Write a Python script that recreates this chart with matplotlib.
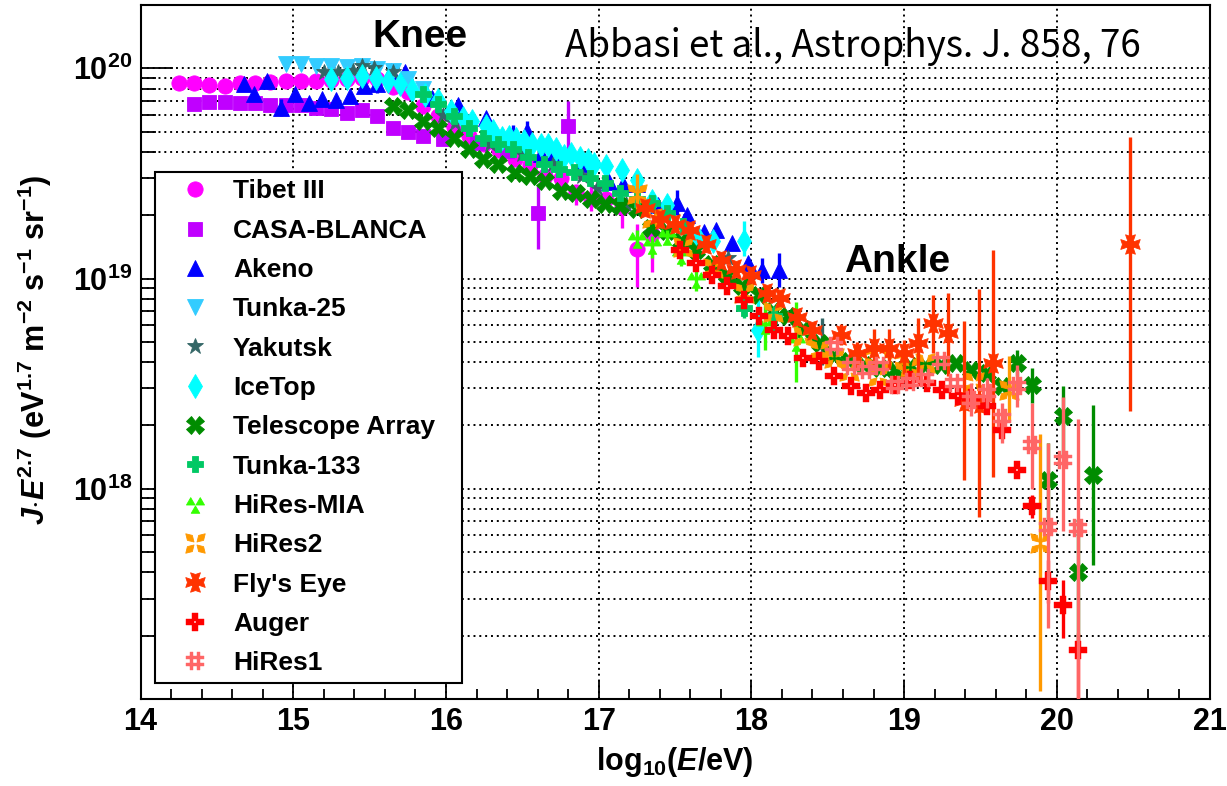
import numpy as np
import matplotlib
matplotlib.use("Agg")
import matplotlib.pyplot as plt
from matplotlib.path import Path
from matplotlib.ticker import FixedLocator, MultipleLocator, NullFormatter

# ---------------- data: log10(E/eV) and log10(J*E^2.7 / eV^1.7 m^-2 s^-1 sr^-1) --------------
tibet_logE = [14.25, 14.35, 14.45, 14.55, 14.65, 14.75, 14.85, 14.95, 15.05, 15.15, 15.25, 15.35,
              15.45, 15.55, 15.65, 15.75, 15.85, 15.95, 16.05, 16.15, 16.25, 16.35, 16.45, 16.55,
              16.65, 16.75, 16.85, 16.95, 17.05, 17.15, 17.25, 17.35]
tibet_logJ = [19.93, 19.93, 19.92, 19.915, 19.93, 19.93, 19.935, 19.94, 19.94, 19.94, 19.945, 19.95,
              19.955, 19.95, 19.91, 19.885, 19.82, 19.775, 19.72, 19.68, 19.64, 19.61, 19.57, 19.54,
              19.49, 19.48, 19.41, 19.38, 19.38, 19.34, 19.14, 19.21]
tibet_up = [0] * 25 + [0.02, 0.03, 0.08, 0.03, 0.04, 0.12, 0.07]
tibet_dn = [0] * 25 + [0.06, 0.06, 0.06, 0.04, 0.10, 0.18, 0.18]

casa_logE = [14.35, 14.45, 14.55, 14.65, 14.75, 14.85, 14.95, 15.05, 15.15, 15.25, 15.35, 15.45,
             15.55, 15.65, 15.75, 15.85, 15.98, 16.2, 16.4, 16.6, 16.8]
casa_logJ = [19.83, 19.84, 19.84, 19.837, 19.833, 19.824, 19.824, 19.824, 19.813, 19.805, 19.789,
             19.801, 19.773, 19.714, 19.699, 19.678, 19.662, 19.645, 19.605, 19.31, 19.725]
casa_up = [0] * 19 + [0.13, 0.12]
casa_dn = [0] * 19 + [0.17, 0.11]

akeno_logE = [14.68, 14.74, 14.83, 14.92, 15.01, 15.10, 15.19, 15.28, 15.37, 15.46, 15.55, 15.64,
              15.73, 15.91, 16.08, 16.26, 16.44, 16.53, 16.62, 16.71, 16.89, 17.07, 17.16, 17.25,
              17.39, 17.51, 17.58, 17.69, 17.77, 17.87, 17.98, 18.07, 18.18]
akeno_logJ = [19.924, 19.876, 19.940, 19.813, 19.876, 19.833, 19.856, 19.849, 19.868, 19.916,
              19.924, 19.987, 19.980, 19.860, 19.825, 19.765, 19.68, 19.70, 19.59, 19.59, 19.543,
              19.46, 19.45, 19.45, 19.35, 19.36, 19.30, 19.22, 19.23, 19.17, 19.075, 19.04, 19.04]
akeno_up = [0, 0, 0, 0.04, 0.03, 0, 0, 0, 0, 0.03, 0.02, 0, 0, 0, 0, 0, 0.05, 0.05, 0, 0, 0, 0,
            0, 0, 0, 0.06, 0, 0, 0, 0, 0, 0.06, 0.08]
akeno_dn = [0, 0, 0, 0.04, 0.02, 0, 0, 0, 0, 0.03, 0.04, 0, 0, 0, 0, 0, 0.03, 0.03, 0, 0, 0, 0,
            0, 0, 0, 0.06, 0, 0, 0, 0, 0, 0.06, 0.08]

tunka25_logE = [14.95, 15.05, 15.15, 15.25, 15.35, 15.45, 15.55, 15.65, 15.75, 15.85]
tunka25_logJ = [20.02, 20.02, 20.01, 20.01, 20.005, 20.01, 19.995, 19.985, 19.95, 19.90]

yakutsk_logE = [15.20, 15.29, 15.39, 15.45, 15.53, 15.65, 15.98, 16.06, 16.29, 16.50, 16.70, 16.89,
                16.99, 17.18, 17.85, 18.46]
yakutsk_logJ = [19.982, 19.982, 19.987, 20.011, 19.999, 19.980, 19.78, 19.74, 19.638, 19.59,
                19.543, 19.487, 19.432, 19.356, 19.10, 18.69]
yakutsk_up = [0] * 15 + [0.12]
yakutsk_dn = [0] * 15 + [0.10]

icetop_logE = [15.25, 15.35, 15.45, 15.54, 15.62, 15.70, 15.78, 15.86, 15.95, 16.03, 16.11, 16.17,
               16.26, 16.31, 16.37, 16.41, 16.46, 16.51, 16.56, 16.62, 16.67, 16.72, 16.77, 16.82,
               16.88, 16.93, 16.97, 17.05, 17.15, 17.25, 17.35, 17.45, 17.65, 17.75, 17.95, 18.04]
icetop_logJ = [19.948, 19.956, 19.963, 19.956, 19.940, 19.924, 19.895, 19.871, 19.848, 19.797,
               19.765, 19.749, 19.724, 19.700, 19.670, 19.673, 19.662, 19.654, 19.641, 19.635,
               19.635, 19.614, 19.582, 19.590, 19.575, 19.562, 19.543, 19.535, 19.514, 19.47,
               19.368, 19.352, 19.194, 19.18, 19.178, 18.757]
icetop_up = [0] * 33 + [0.04, 0.095, 0.14]
icetop_dn = [0] * 33 + [0.04, 0.072, 0.13]

ta_logE = [15.65, 15.75, 15.85, 15.95, 16.05, 16.15, 16.24, 16.34, 16.45, 16.55, 16.65, 16.75,
           16.85, 16.95, 17.04, 17.14, 17.25, 17.34, 17.45, 17.54, 17.64, 17.74, 17.84, 17.94,
           18.05, 18.14, 18.24, 18.34, 18.45, 18.54, 18.64, 18.74, 18.84, 18.94, 19.04, 19.14,
           19.24, 19.34, 19.44, 19.54, 19.64, 19.74, 19.84, 19.94, 20.04, 20.14, 20.24]
ta_logJ = [19.820, 19.801, 19.749, 19.714, 19.670, 19.618, 19.567, 19.543, 19.503, 19.487, 19.463,
           19.416, 19.408, 19.376, 19.356, 19.345, 19.329, 19.241, 19.225, 19.178, 19.138, 19.067,
           19.019, 18.963, 18.924, 18.844, 18.820, 18.76, 18.694, 18.630, 18.61, 18.59, 18.575,
           18.567, 18.582, 18.582, 18.59, 18.598, 18.563, 18.551, 18.487, 18.598, 18.495, 18.043,
           18.344, 17.606, 18.067]
ta_up = [0] * 41 + [0.064, 0.08, 0.175, 0.143, 0.25, 0.333]
ta_dn = [0] * 41 + [0.063, 0.087, 0.24, 0.20, 0.35, 0.429]

tunka133_logE = [15.85, 15.95, 16.05, 16.15, 16.24, 16.34, 16.44, 16.54, 16.64, 16.74, 16.84, 16.94,
                 17.04, 17.14, 17.25, 17.35, 17.45, 17.55, 17.95, 18.15]
tunka133_logJ = [19.876, 19.829, 19.773, 19.717, 19.670, 19.638, 19.614, 19.58, 19.547, 19.52,
                 19.507, 19.48, 19.452, 19.408, 19.38, 19.36, 19.313, 19.25, 18.86, 18.82]
tunka133_up = [0] * 18 + [0.05, 0.05]
tunka133_dn = [0] * 18 + [0.05, 0.07]

hiresmia_logE = [17.25, 17.35, 17.45, 17.54, 17.64, 18.09, 18.29]
hiresmia_logJ = [19.19, 19.16, 19.20, 19.11, 19.00, 18.78, 18.70]
hiresmia_up = [0.04, 0.04, 0.03, 0.03, 0.05, 0.12, 0.19]
hiresmia_dn = [0.04, 0.06, 0.03, 0.05, 0.06, 0.12, 0.19]

hires2_logE = [17.25, 17.35, 17.55, 17.75, 17.95, 18.14, 18.34, 18.44, 18.54, 18.64, 18.73, 18.83,
               18.93, 19.04, 19.14, 19.46, 19.69, 19.89]
hires2_logJ = [19.40, 19.29, 19.15, 19.05, 18.93, 18.84, 18.725, 18.662, 18.62, 18.56, 18.63,
               18.535, 18.614, 18.58, 18.60, 18.51, 18.47, 17.74]
hires2_up = [0.095] + [0] * 15 + [0.16, 0.52]
hires2_dn = [0.07] + [0] * 15 + [0.15, 0.70]

flyseye_logE = [17.30, 17.40, 17.50, 17.60, 17.70, 17.80, 17.90, 18.00, 18.10, 18.19, 18.30, 18.40,
                18.59, 18.69, 18.80, 18.90, 19.00, 19.09, 19.19, 19.29, 19.39, 19.49, 19.58, 20.48]
flyseye_logJ = [19.335, 19.285, 19.257, 19.233, 19.166, 19.086, 19.047, 19.019, 18.932, 18.908,
                18.816, 18.757, 18.733, 18.646, 18.670, 18.670, 18.646, 18.694, 18.789, 18.741,
                18.416, 18.408, 18.598, 19.162]
flyseye_up = [0] * 12 + [0.05, 0.05, 0.09, 0.09, 0.06, 0.12, 0.135, 0.19, 0.38, 0.54, 0.54, 0.51]
flyseye_dn = [0] * 12 + [0.05, 0.08, 0.10, 0.10, 0.10, 0.175, 0.143, 0.206, 0.373, 0.54, 0.54, 0.79]

auger_logE = [17.53, 17.64, 17.74, 17.84, 17.95, 18.05, 18.15, 18.24, 18.34, 18.44, 18.54, 18.65,
              18.75, 18.84, 18.94, 19.04, 19.15, 19.25, 19.35, 19.44, 19.54, 19.64, 19.74, 19.84,
              19.94, 20.04, 20.14]
auger_logJ = [19.138, 19.075, 19.019, 18.963, 18.90, 18.82, 18.757, 18.725, 18.622, 18.606, 18.535,
              18.487, 18.456, 18.471, 18.495, 18.519, 18.503, 18.471, 18.44, 18.43, 18.392, 18.281,
              18.090, 17.916, 17.559, 17.448, 17.233]
auger_up = [0] * 23 + [0.055, 0.10, 0.12, 0.08]
auger_dn = [0] * 23 + [0.055, 0.10, 0.16, 0.35]

hires1_logE = [18.54, 18.65, 18.75, 18.84, 18.94, 19.04, 19.14, 19.24, 19.33, 19.44, 19.54, 19.64,
               19.74, 19.84, 19.94, 20.04, 20.14]
hires1_logJ = [18.678, 18.582, 18.567, 18.582, 18.495, 18.51, 18.527, 18.606, 18.503, 18.424,
               18.456, 18.337, 18.487, 18.21, 17.82, 18.138, 17.813]
hires1_up = [0] * 9 + [0.08, 0.07, 0.07, 0.10, 0.20, 0.40, 0.30, 0.52]
hires1_dn = [0] * 9 + [0.08, 0.07, 0.12, 0.10, 0.21, 0.48, 0.34, 0.82]

x_ticks = [14, 15, 16, 17, 18, 19, 20, 21]
y_ticks = [1e18, 1e19, 1e20]
y_ticklabels = [r'$10^{18}$', r'$10^{19}$', r'$10^{20}$']

# ---------------- fonts ----------------
plt.rcParams['font.family'] = ['Liberation Sans', 'DejaVu Sans']
plt.rcParams['font.weight'] = 'bold'
plt.rcParams['mathtext.fontset'] = 'custom'
plt.rcParams['mathtext.rm'] = 'Liberation Sans:bold'
plt.rcParams['mathtext.it'] = 'Liberation Sans:bold:italic'
plt.rcParams['mathtext.bf'] = 'Liberation Sans:bold'


# ---------------- custom markers ----------------
def poly_path(polys):
    verts, codes = [], []
    for p in polys:
        verts += list(p) + [p[0]]
        codes += [Path.MOVETO] + [Path.LINETO] * (len(p) - 1) + [Path.CLOSEPOLY]
    return Path(verts, codes)


def rect(cx, cy, w, h):
    return [(cx - w / 2, cy - h / 2), (cx + w / 2, cy - h / 2),
            (cx + w / 2, cy + h / 2), (cx - w / 2, cy + h / 2)]


def tri(cx, cy, s):
    return [(cx - s / 2, cy - s * 0.433), (cx + s / 2, cy - s * 0.433), (cx, cy + s * 0.433)]


def rot(poly, ang):
    c, s = np.cos(ang), np.sin(ang)
    return [(c * x - s * y, s * x + c * y) for x, y in poly]


three_tri = poly_path([tri(-0.42, 0.28, 0.75), tri(0.42, 0.28, 0.75), tri(0.0, -0.45, 0.75)])

leaf = [(0.12, 0.0), (0.45, -0.2), (0.78, 0.0), (0.45, 0.2)]
four_leaf = poly_path([rot(leaf, np.pi / 4 + k * np.pi / 2) for k in range(4)])

arm = [(0.0, -0.12), (0.75, -0.38), (0.62, 0.0), (0.75, 0.38), (0.0, 0.12)]
maltese = poly_path([rot(arm, k * np.pi / 2) for k in range(4)] + [rect(0, 0, 0.3, 0.3)])

a, L, b = 0.27, 0.75, 0.12
plus_outer = [(a, -L), (a, -a), (L, -a), (L, a), (a, a), (a, L), (-a, L), (-a, a), (-L, a),
              (-L, -a), (-a, -a), (-a, -L)]
plus_hole = [(-b, -b), (-b, b), (b, b), (b, -b)]
open_plus = poly_path([plus_outer, plus_hole])

hashm = poly_path([rect(-0.25, 0, 0.22, 1.2), rect(0.25, 0, 0.22, 1.2),
                   rect(0, -0.25, 1.2, 0.22), rect(0, 0.25, 1.2, 0.22)])

# ---------------- figure ----------------
W, H = 1227, 786
fig = plt.figure(figsize=(W / 100, H / 100), dpi=100)
ax = fig.add_axes([140.6 / W, 1 - 699 / H, (1209.5 - 140.6) / W, 694 / H])
ax.set_yscale('log')
ax.set_xlim(14, 21)
ax.set_ylim(1e17, 2e20)


def draw(logE, logJ, up, dn, color, marker, ms, label, z, mew=0.6):
    x = np.asarray(logE, float)
    lj = np.asarray(logJ, float)
    y = 10 ** lj
    if up is not None:
        u = np.asarray(up, float)
        d = np.asarray(dn, float)
        m = (u > 0) | (d > 0)
        if m.any():
            yerr = [y[m] - 10 ** (lj[m] - d[m]), 10 ** (lj[m] + u[m]) - y[m]]
            ax.errorbar(x[m], y[m], yerr=yerr, fmt='none', ecolor=color, elinewidth=2.4,
                        capsize=0, zorder=z)
    ax.plot(x, y, ls='none', marker=marker, ms=ms, color=color, mec=color, mew=mew,
            label=label, zorder=z + 0.5)


draw(tibet_logE, tibet_logJ, tibet_up, tibet_dn, '#ff00ff', 'o', 11, 'Tibet III', 3)
draw(casa_logE, casa_logJ, casa_up, casa_dn, '#c000ff', 's', 10.5, 'CASA-BLANCA', 4)
draw(akeno_logE, akeno_logJ, akeno_up, akeno_dn, '#0000ff', '^', 11, 'Akeno', 5)
draw(tunka25_logE, tunka25_logJ, None, None, '#33ccff', 'v', 11, 'Tunka-25', 6)
draw(yakutsk_logE, yakutsk_logJ, yakutsk_up, yakutsk_dn, '#336666', '*', 12, 'Yakutsk', 7)
draw(icetop_logE, icetop_logJ, icetop_up, icetop_dn, '#00ffff', 'd', 12, 'IceTop', 8)
draw(ta_logE, ta_logJ, ta_up, ta_dn, '#008c00', 'X', 12.5, 'Telescope Array', 9)
draw(tunka133_logE, tunka133_logJ, tunka133_up, tunka133_dn, '#00c864', 'P', 12, 'Tunka-133', 10)
draw(hiresmia_logE, hiresmia_logJ, hiresmia_up, hiresmia_dn, '#33ff00', three_tri, 13, 'HiRes-MIA', 11)
draw(hires2_logE, hires2_logJ, hires2_up, hires2_dn, '#ff9900', four_leaf, 14, 'HiRes2', 12)
draw(flyseye_logE, flyseye_logJ, flyseye_up, flyseye_dn, '#ff3300', maltese, 14, "Fly's Eye", 13)
draw(auger_logE, auger_logJ, auger_up, auger_dn, '#ff0000', open_plus, 13, 'Auger', 14, mew=0.3)
draw(hires1_logE, hires1_logJ, hires1_up, hires1_dn, '#ff6666', hashm, 13, 'HiRes1', 15, mew=0.3)

# ---------------- axes decoration ----------------
ax.xaxis.set_major_locator(FixedLocator(x_ticks))
ax.xaxis.set_minor_locator(MultipleLocator(0.2))
ax.set_xticklabels([str(t) for t in x_ticks])
ax.yaxis.set_major_locator(FixedLocator(y_ticks))
ax.yaxis.set_minor_locator(FixedLocator([k * 10.0 ** n for n in (17, 18, 19) for k in range(2, 10)]))
ax.yaxis.set_minor_formatter(NullFormatter())
ax.set_yticklabels(y_ticklabels)

ax.tick_params(axis='x', which='major', direction='in', length=14, width=1.3, labelsize=22, pad=6)
ax.tick_params(axis='x', which='minor', direction='in', length=7, width=1.3)
ax.tick_params(axis='y', which='major', direction='in', length=23, width=1.3, labelsize=22, pad=6)
ax.tick_params(axis='y', which='minor', direction='in', length=11, width=1.3)
for lab in ax.get_xticklabels() + ax.get_yticklabels():
    lab.set_fontweight('bold')
for sp in ax.spines.values():
    sp.set_linewidth(1.5)

gstyle = dict(color='black', linestyle=(0, (1, 2)), linewidth=1.4)
ax.grid(axis='x', which='major', **gstyle)
ax.grid(axis='y', which='both', **gstyle)
ax.set_axisbelow(True)

leg = ax.legend(loc='lower left', bbox_to_anchor=(0.0135, 0.023, 0.287, 0.74), mode='expand',
                prop={'weight': 'bold', 'size': 19}, frameon=True, fancybox=False,
                edgecolor='black', framealpha=1, borderpad=0.3, labelspacing=0.58,
                handlelength=2.4, handletextpad=0.25, borderaxespad=0, numpoints=1)
leg.get_frame().set_linewidth(1.5)
leg.set_zorder(30)

# ---------------- texts ----------------
fig.text(420 / W, 1 - 46.7 / H, 'Knee', ha='center', va='baseline', fontsize=28, fontweight='bold')
fig.text(897.5 / W, 1 - 271.7 / H, 'Ankle', ha='center', va='baseline', fontsize=28, fontweight='bold')
fig.text(565 / W, 1 - 57 / H, 'Abbasi et al., Astrophys. J. 858, 76', ha='left', va='baseline',
         fontsize=26.5, fontweight='normal', family=['Noto Sans CJK KR', 'DejaVu Sans'])
fig.text(675 / W, 1 - 770 / H, r'log$_{10}$($E$/eV)', ha='center', va='baseline', fontsize=22,
         fontweight='bold')
fig.text(35 / W, 1 - 350 / H, r'$J{\cdot}E^{2.7}$ (eV$^{1.7}$ m$^{-2}$ s$^{-1}$ sr$^{-1}$)',
         rotation=90, ha='center', va='center', fontsize=22, fontweight='bold')

fig.savefig('out.png', dpi=100)
